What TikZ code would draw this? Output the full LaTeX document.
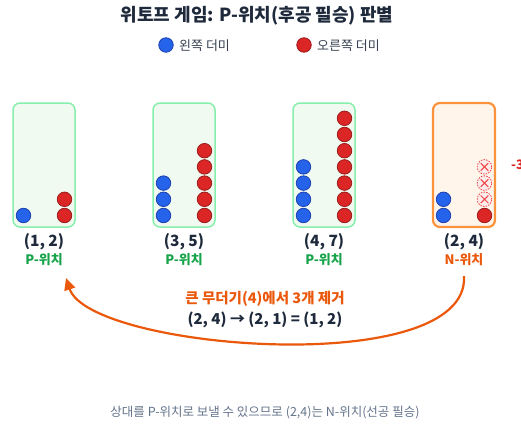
\documentclass[tikz,border=0pt]{standalone}
\usepackage{fontspec}
\setmainfont{Noto Sans CJK KR}
\usetikzlibrary{arrows.meta}
\definecolor{ink}{HTML}{1E293B}
\definecolor{gray1}{HTML}{374151}
\definecolor{gray2}{HTML}{64748B}
\definecolor{pgreen}{HTML}{16A34A}
\definecolor{nor}{HTML}{EA580C}
\definecolor{bfill}{HTML}{2563EB}
\definecolor{bline}{HTML}{1E40AF}
\definecolor{rfill}{HTML}{DC2626}
\definecolor{rline}{HTML}{991B1B}
\definecolor{gfill}{HTML}{F0FAF0}
\definecolor{gline}{HTML}{86EFAC}
\definecolor{ofill}{HTML}{FFF5EB}
\definecolor{oline}{HTML}{FB923C}
\definecolor{xfill}{HTML}{FDECEC}
\definecolor{xline}{HTML}{EF4444}
\tikzset{
  pbox/.style={draw=gline, line width=1.5pt, fill=gfill, rounded corners=7pt, minimum width=62pt, minimum height=124pt, inner sep=0pt},
  nbox/.style={draw=oline, line width=2.2pt, fill=ofill, rounded corners=7pt, minimum width=62pt, minimum height=124pt, inner sep=0pt},
  bstone/.style={circle, draw=bline, line width=0.8pt, fill=bfill, minimum size=14.5pt, inner sep=0pt},
  rstone/.style={circle, draw=rline, line width=0.8pt, fill=rfill, minimum size=14.5pt, inner sep=0pt},
  gone/.style={circle, draw=xline, dashed, dash pattern=on 1.5pt off 1.2pt, line width=0.8pt, fill=xfill, minimum size=14.5pt, inner sep=0pt},
  pair/.style={font=\bfseries\fontsize{15.5}{18}\selectfont, text=ink},
  plab/.style={font=\bfseries\fontsize{13}{15}\selectfont, text=pgreen},
  nlab/.style={font=\bfseries\fontsize{13}{15}\selectfont, text=nor},
  legtext/.style={font=\fontsize{13}{15}\selectfont, text=gray1, anchor=west, inner sep=0pt},
}
\begin{document}
\begin{tikzpicture}[x=1pt,y=-1pt]
\useasboundingbox (0,0) rectangle (521,425);
% title
\node[font=\bfseries\fontsize{18}{21}\selectfont, text=ink] (title) at (257,16) {위토프 게임: P-위치(후공 필승) 판별};
% legend
\node[bstone] (lb) at (166,45) {};
\node[legtext] (lbt) at (179,45.5) {왼쪽 더미};
\node[rstone] (lr) at (304,45) {};
\node[legtext] (lrt) at (317,45.5) {오른쪽 더미};
% boxes
\node[pbox] (b1) at (44,165) {};
\node[pbox] (b2) at (184,165) {};
\node[pbox] (b3) at (324,165) {};
\node[nbox] (b4) at (464,165) {};
% stones box 1
\node[bstone] (b1l1) at (23.5,215.5) {};
\foreach \i in {1,2} \node[rstone] (b1r\i) at (64.5,{215.5-16.2*(\i-1)}) {};
% box 2
\foreach \i in {1,...,3} \node[bstone] (b2l\i) at (163.5,{215.5-16.2*(\i-1)}) {};
\foreach \i in {1,...,5} \node[rstone] (b2r\i) at (204.5,{215.5-16.2*(\i-1)}) {};
% box 3
\foreach \i in {1,...,4} \node[bstone] (b3l\i) at (303.5,{215.5-16.2*(\i-1)}) {};
\foreach \i in {1,...,7} \node[rstone] (b3r\i) at (344.5,{215.5-16.2*(\i-1)}) {};
% box 4
\foreach \i in {1,2} \node[bstone] (b4l\i) at (443.5,{215.5-16.2*(\i-1)}) {};
\node[rstone] (b4r1) at (484.5,215.5) {};
\foreach \i in {2,3,4} {
  \node[gone] (b4x\i) at (484.5,{215.5-16.2*(\i-1)}) {};
  \draw[xline, line width=1pt] ([shift={(-3.8pt,-3.8pt)}]b4x\i.center) -- ([shift={(3.8pt,3.8pt)}]b4x\i.center)
        ([shift={(-3.8pt,3.8pt)}]b4x\i.center) -- ([shift={(3.8pt,-3.8pt)}]b4x\i.center);
}
\node[font=\bfseries\fontsize{13}{15}\selectfont, text=rfill, anchor=west, inner sep=0pt] (minus) at (511,165) {-3};
% labels
\node[pair] (p1) at (44,242) {(1, 2)};
\node[pair] (p2) at (184,242) {(3, 5)};
\node[pair] (p3) at (324,242) {(4, 7)};
\node[pair] (p4) at (464,242) {(2, 4)};
\node[plab] (s1) at (44,260) {P-위치};
\node[plab] (s2) at (184,260) {P-위치};
\node[plab] (s3) at (324,260) {P-위치};
\node[nlab] (s4) at (464,260) {N-위치};
% arrow
\coordinate (as) at (464,276);
\coordinate (ae) at (66,278);
\draw[nor, line width=2.2pt, -{Triangle[length=12pt,width=11pt]}] (as) .. controls (470,380) and (90,350) .. (ae);
\node[font=\bfseries\fontsize{14.5}{17}\selectfont, text=nor] (m1) at (265,299) {큰 무더기(4)에서 3개 제거};
\node[font=\bfseries\fontsize{15}{17}\selectfont, text=ink] (m2) at (265,320) {(2, 4) → (2, 1) = (1, 2)};
% footer
\node[font=\fontsize{12.5}{14}\selectfont, text=gray2] (foot) at (265,413) {상대를 P-위치로 보낼 수 있으므로 (2,4)는 N-위치(선공 필승)};
\end{tikzpicture}
\end{document}
